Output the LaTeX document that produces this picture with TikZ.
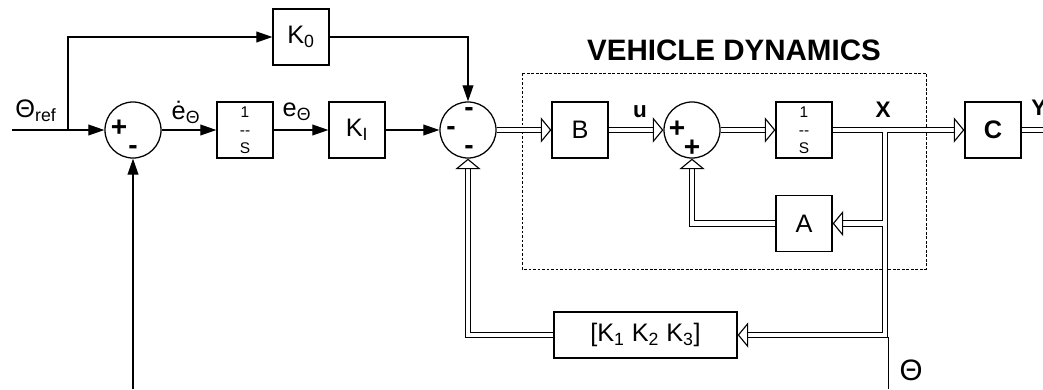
\documentclass[tikz,border=0pt]{standalone}
\usepackage{fontspec}
\setmainfont{Liberation Sans}
\usetikzlibrary{arrows.meta}

\begin{document}
\begin{tikzpicture}[x = 0.025cm, y = -0.025cm,
		blk/.style = {draw, line width = 0.9pt, minimum width = 1.4cm, minimum height = 1.4cm, inner sep = 0pt, font = \fontsize{18}{20}\selectfont},
		intg/.style = {blk, align = center, font = \fontsize{11}{12.8}\selectfont},
		sumnode/.style = {draw, circle, line width = 0.9pt, minimum size = 1.4cm, inner sep = 0pt},
		sgn/.style = {inner sep = 0pt, font = \bfseries\fontsize{20}{22}\selectfont},
		lbl/.style = {inner sep = 0pt, font = \fontsize{18}{20}\selectfont},
		blbl/.style = {inner sep = 0pt, font = \bfseries\fontsize{16}{18}\selectfont},
		sig/.style = {line width = 0.9pt, -{Triangle[length = 0.4cm, width = 0.27cm]}},
		vec/.style = {double, line width = 0.8pt, double distance = 3pt, -{Triangle[open, fill = white, length = 7.5pt, width = 18pt, line width = 0.8pt]}}]
		\useasboundingbox (0,0) rectangle (1043,389);
		% blocks of the outer loop
		\node [sumnode] (sumA) at (133,130) {};
		\node [intg] (intA) at (245,130) {1\\-{}-\\S};
		\node [blk] (kI) at (357,130) {K\textsubscript{I}};
		\node [blk] (kO) at (301,37) {K\textsubscript{0}};
		\node [sumnode] (sumB) at (468,130) {};
		\node [sgn] (sumAp) at (119,128) {+};
		\node [sgn] (sumAm) at (133,150) {-};
		\node [sgn] (sumBt) at (469,112) {-};
		\node [sgn] (sumBl) at (451,131) {-};
		\node [sgn] (sumBb) at (469,150) {-};
		% vehicle dynamics
		\draw [dashed, line width = 0.6pt, dash pattern = on 2pt off 1.2pt] (522,73) rectangle (926,269);
		\node [font = \bfseries\fontsize{21}{24}\selectfont] (title) at (734,50) {VEHICLE DYNAMICS};
		\node [blk] (bBlk) at (580,130) {B};
		\node [sumnode] (sumC) at (692,130) {};
		\node [sgn] (sumCp) at (677,129) {+};
		\node [sgn] (sumCq) at (692,148) {+};
		\node [intg] (intB) at (804,130) {1\\-{}-\\S};
		\node [blk] (aBlk) at (804,223.5) {A};
		\node [blk, font = \bfseries\fontsize{18}{20}\selectfont] (cBlk) at (993,130) {C};
		\node [blk, minimum width = 4.575cm, minimum height = 1.15cm] (kBlk) at (645.5,335) {[K\textsubscript{1} K\textsubscript{2} K\textsubscript{3}]};
		% labels
		\node [lbl] (thref) at (36,111) {Θ\textsubscript{ref}};
		\node [lbl] (edot) at (186,112) {\.{e}\textsubscript{Θ}};
		\node [lbl] (eth) at (297,112) {e\textsubscript{Θ}};
		\node [blbl] (uLbl) at (640,112) {u};
		\node [blbl] (xLbl) at (883,110) {X};
		\node [blbl, anchor = west] (yLbl) at (1031,108) {Y};
		\node [lbl, font = \fontsize{21}{23}\selectfont] (thLbl) at (911,370) {Θ};
		% scalar signals
		\coordinate (in) at (12,130);
		\coordinate (tap) at (68,130);
		\coordinate (fb) at (133,389);
		\draw [sig] (in) -- (sumA);
		\draw [sig] (tap) |- (kO);
		\draw [sig] (sumA) -- (intA);
		\draw [sig] (intA) -- (kI);
		\draw [sig] (kI) -- (sumB);
		\draw [sig] (kO) -| (sumB);
		\draw [sig] (fb) -- (sumA);
		% vector signals
		\coordinate (out) at (1056,130);
		\coordinate (xtap) at (885,132);
		\coordinate (atap) at (882.9,223.5);
		\coordinate (ktap) at (885,335);
		\coordinate (thtap) at (888.3,337);
		\coordinate (thend) at (888.3,389);
		\draw [vec] (sumB) -- (bBlk);
		\draw [vec] (bBlk) -- (sumC);
		\draw [vec] (sumC) -- (intB);
		\draw [vec] (intB) -- (cBlk);
		\draw [vec] (cBlk) -- (out);
		\draw [vec] (xtap) -- (ktap) -- (kBlk);
		\draw [vec] (atap) -- (aBlk);
		\draw [vec] (aBlk) -| (sumC);
		\draw [vec] (kBlk) -| (sumB);
		\draw [line width = 0.9pt] (thtap) -- (thend);
	\end{tikzpicture}
\end{document}
